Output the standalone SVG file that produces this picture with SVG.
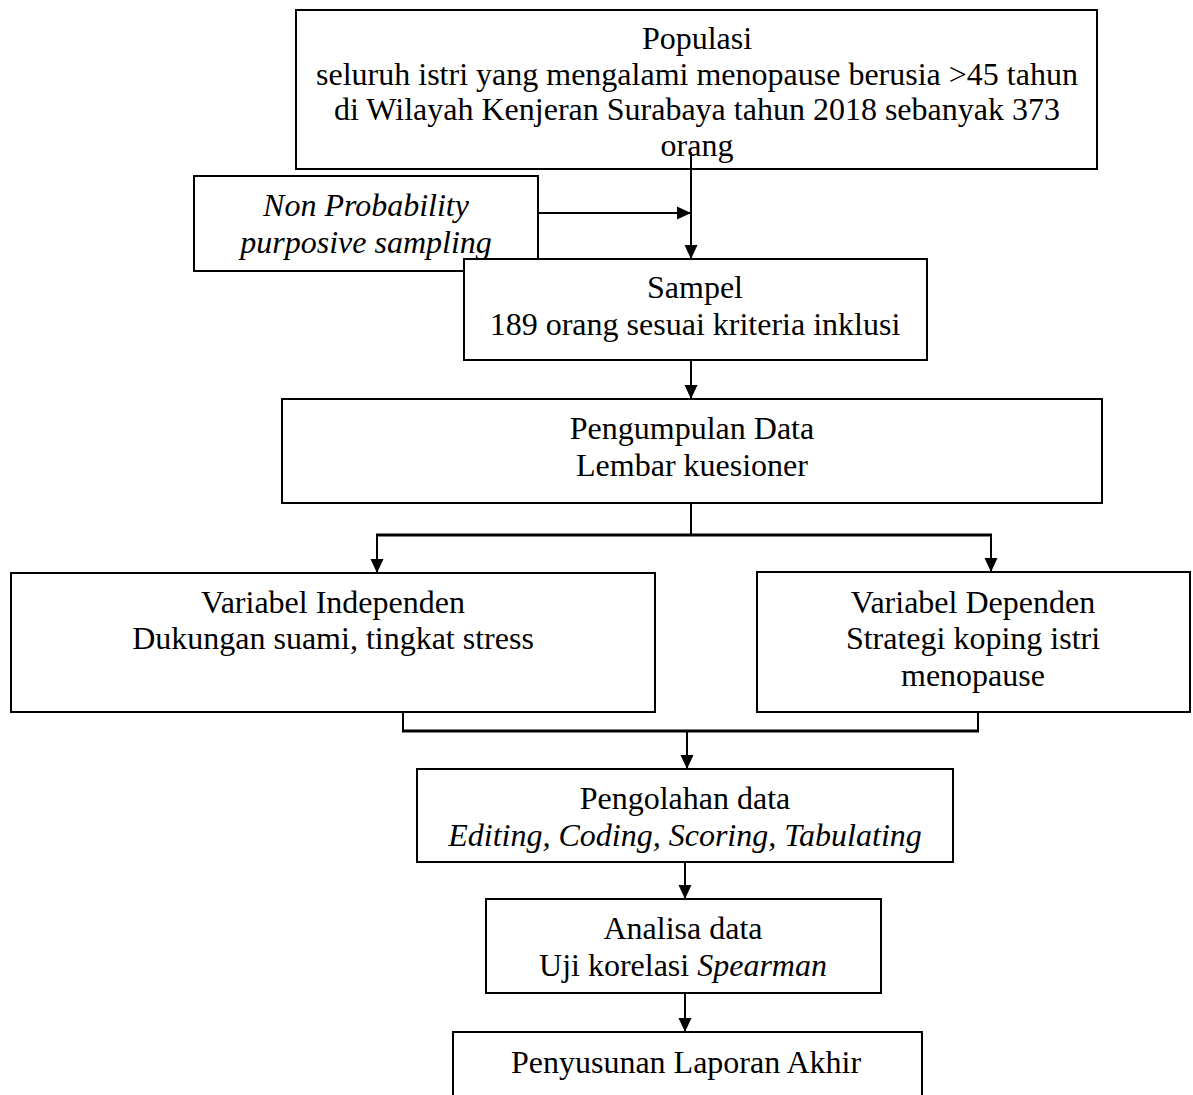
<svg xmlns="http://www.w3.org/2000/svg" width="1193" height="1095" viewBox="0 0 1193 1095">
<defs>
<marker id="ah" markerWidth="14" markerHeight="16" refX="14" refY="7" orient="auto" markerUnits="userSpaceOnUse">
<path d="M0,0.5 L14,7 L0,13.5 Z" fill="#000"/>
</marker>
<style>
.box{fill:#fff;stroke:#000;stroke-width:2}
.t{font-family:"Liberation Serif","Times New Roman",serif;font-size:32px;fill:#000;text-anchor:middle}
.i{font-style:italic}
.c{fill:none;stroke:#000;stroke-width:2}
.ca{fill:none;stroke:#000;stroke-width:2;marker-end:url(#ah)}
.thick{fill:none;stroke:#000;stroke-width:3}
</style>
</defs>
<rect width="1193" height="1095" fill="#fff"/>
<g id="populasi">
<rect class="box" x="296" y="10" width="801" height="159"/>
<text class="t" x="697" y="49">Populasi</text>
<text class="t" x="697" y="85">seluruh istri yang mengalami menopause berusia &gt;45 tahun</text>
<text class="t" x="697" y="120">di Wilayah Kenjeran Surabaya tahun 2018 sebanyak 373</text>
<text class="t" x="697" y="156">orang</text>
</g>
<g id="sampling">
<rect class="box" x="194" y="176" width="344" height="95"/>
<text class="t i" x="366" y="216">Non Probability</text>
<text class="t i" x="366" y="253">purposive sampling</text>
</g>
<g id="sampel">
<rect class="box" x="464" y="259" width="463" height="101"/>
<text class="t" x="695" y="298">Sampel</text>
<text class="t" x="695" y="335">189 orang sesuai kriteria inklusi</text>
</g>
<g id="pengumpulan">
<rect class="box" x="282" y="399" width="820" height="104"/>
<text class="t" x="692" y="439">Pengumpulan Data</text>
<text class="t" x="692" y="476">Lembar kuesioner</text>
</g>
<g id="independen">
<rect class="box" x="11" y="573" width="644" height="139"/>
<text class="t" x="333" y="613">Variabel Independen</text>
<text class="t" x="333" y="649">Dukungan suami, tingkat stress</text>
</g>
<g id="dependen">
<rect class="box" x="757" y="572" width="433" height="140"/>
<text class="t" x="973" y="613">Variabel Dependen</text>
<text class="t" x="973" y="649">Strategi koping istri</text>
<text class="t" x="973" y="686">menopause</text>
</g>
<g id="pengolahan">
<rect class="box" x="417" y="769" width="536" height="93"/>
<text class="t" x="685" y="809">Pengolahan data</text>
<text class="t i" x="685" y="846">Editing, Coding, Scoring, Tabulating</text>
</g>
<g id="analisa">
<rect class="box" x="486" y="899" width="395" height="94"/>
<text class="t" x="683" y="939">Analisa data</text>
<text class="t" x="683" y="976">Uji korelasi <tspan class="i">Spearman</tspan></text>
</g>
<g id="penyusunan">
<rect class="box" x="453" y="1032" width="469" height="80"/>
<text class="t" x="686" y="1073">Penyusunan Laporan Akhir</text>
</g>
<g id="connectors">
<line class="ca" x1="691" y1="152" x2="691" y2="259"/>
<line class="ca" x1="538" y1="213" x2="691" y2="213"/>
<line class="ca" x1="691" y1="360" x2="691" y2="399"/>
<line class="c" x1="691" y1="503" x2="691" y2="535"/>
<line class="thick" x1="376" y1="535" x2="992" y2="535"/>
<line class="ca" x1="377" y1="535" x2="377" y2="573"/>
<line class="ca" x1="991" y1="535" x2="991" y2="572"/>
<line class="c" x1="403" y1="712" x2="403" y2="731"/>
<line class="c" x1="978" y1="712" x2="978" y2="731"/>
<line class="thick" x1="402" y1="731" x2="979" y2="731"/>
<line class="ca" x1="687" y1="731" x2="687" y2="769"/>
<line class="ca" x1="685" y1="862" x2="685" y2="899"/>
<line class="ca" x1="685" y1="993" x2="685" y2="1032"/>
</g>
</svg>
